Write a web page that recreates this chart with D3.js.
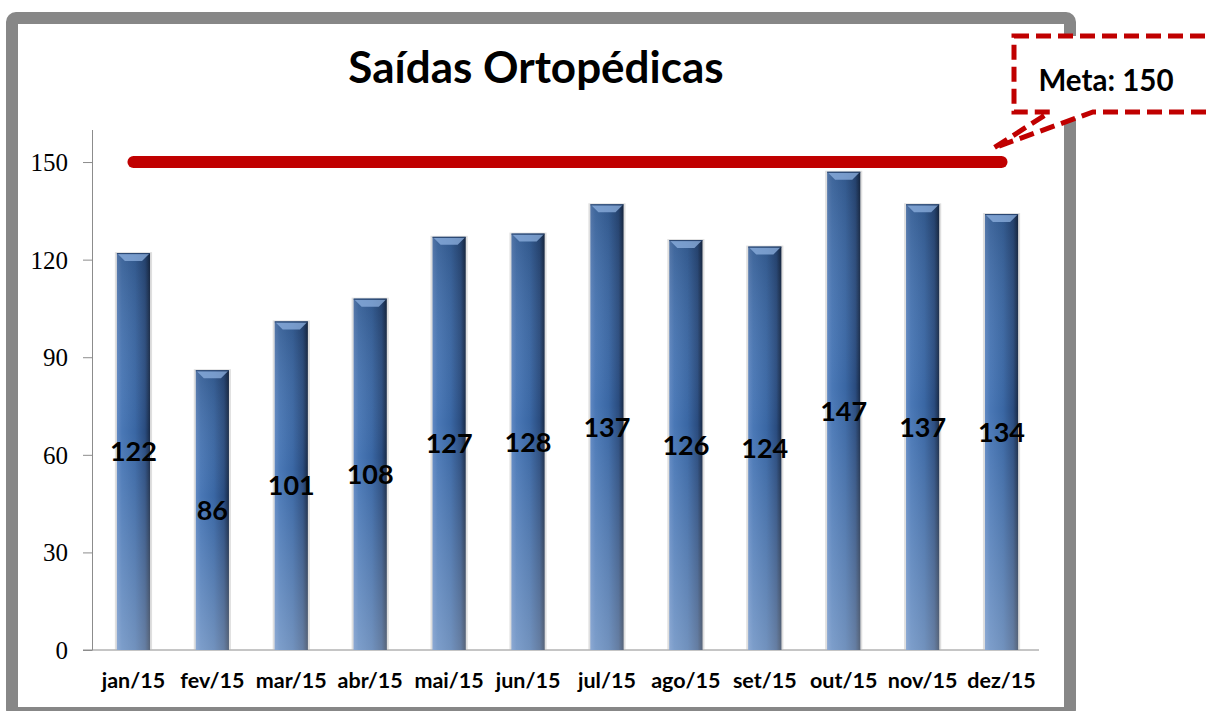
<!DOCTYPE html>
<html>
<head>
<meta charset="utf-8">
<script src="https://cdn.jsdelivr.net/npm/d3@7"></script>
<style>
  body { margin: 0; background: #fff; }
  .y-axis text { font-family: "Liberation Serif", serif; font-size: 25px; fill: #000; }
  .y-axis path, .y-axis line { stroke: #8c8c8c; }
  .x-label { font-family: Lato, sans-serif; font-weight: bold; font-size: 21.5px; fill: #000; }
  .val { font-family: Lato, sans-serif; font-weight: bold; font-size: 27px; fill: #000; }
  .title { font-family: Lato, sans-serif; font-weight: bold; font-size: 44px; fill: #000; }
  .meta { font-family: Lato, sans-serif; font-weight: bold; font-size: 29.5px; fill: #000; }
</style>
</head>
<body>
<div id="chart"></div>
<script>
var meses = ["jan/15", "fev/15", "mar/15", "abr/15", "mai/15", "jun/15",
             "jul/15", "ago/15", "set/15", "out/15", "nov/15", "dez/15"],
    saidas = [122, 86, 101, 108, 127, 128, 137, 126, 124, 147, 137, 134],
    meta = 150,
    yTicks = [0, 30, 60, 90, 120, 150],
    titulo = "Saídas Ortopédicas";

var W = 1207, H = 711,
    svg = d3.select("#chart").append("svg")
        .attr("width", W)
        .attr("height", H);

var x = d3.scaleBand()
        .domain(meses)
        .range([94, 1041])
        .paddingInner(0.58)
        .paddingOuter(0.29),
    y = d3.scaleLinear()
        .domain([0, 160])
        .range([650, 129.5]);

// gradients for the bars
var defs = svg.append("defs");
var gh = defs.append("linearGradient").attr("id", "barH")
    .attr("x1", 0).attr("x2", 1).attr("y1", 0).attr("y2", 0);
[["0%", "#6088c2"], ["15%", "#4a78b6"], ["55%", "#3a67a4"], ["85%", "#2a4c7f"], ["100%", "#182a47"]]
    .forEach(function (s) { gh.append("stop").attr("offset", s[0]).attr("stop-color", s[1]); });
var gv = defs.append("linearGradient").attr("id", "barV")
    .attr("x1", 0).attr("x2", 0).attr("y1", 0).attr("y2", 1);
gv.append("stop").attr("offset", "0%").attr("stop-color", "#000").attr("stop-opacity", 0.15);
gv.append("stop").attr("offset", "45%").attr("stop-color", "#fff").attr("stop-opacity", 0);
gv.append("stop").attr("offset", "100%").attr("stop-color", "#fff").attr("stop-opacity", 0.28);

// frame
svg.append("rect")
    .attr("x", 12).attr("y", 18)
    .attr("width", 1058).attr("height", 695)
    .attr("rx", 4)
    .attr("fill", "#fff")
    .attr("stroke", "#878787")
    .attr("stroke-width", 12);

// title
svg.append("text")
    .attr("class", "title")
    .attr("x", 536)
    .attr("y", 83)
    .attr("text-anchor", "middle")
    .text(titulo);

// y axis
var yAxis = d3.axisLeft(y)
    .tickValues(yTicks)
    .tickSize(9)
    .tickSizeOuter(0)
    .tickPadding(15);
svg.append("g")
    .attr("class", "y-axis")
    .attr("transform", "translate(92,0)")
    .call(yAxis)
    .call(function (g) { g.selectAll(".tick text").attr("dy", "0.34em"); });

// base line
svg.append("line")
    .attr("x1", 83).attr("x2", 1039)
    .attr("y1", y(0)).attr("y2", y(0))
    .attr("stroke", "#8c8c8c");

// bars
var bars = svg.append("g").selectAll(".bar")
    .data(saidas)
    .enter().append("g")
    .attr("class", "bar")
    .attr("transform", function (d, i) { return "translate(" + x(meses[i]) + ",0)"; });

var bw = x.bandwidth();
bars.append("rect")
    .attr("x", -2).attr("y", function (d) { return y(d) - 1; })
    .attr("width", bw + 4)
    .attr("height", function (d) { return y(0) - y(d) + 1; })
    .attr("fill", "#b8b8b8")
    .attr("opacity", 0.45);
bars.append("rect")
    .attr("x", 0).attr("y", function (d) { return y(d); })
    .attr("width", bw)
    .attr("height", function (d) { return y(0) - y(d); })
    .attr("fill", "url(#barH)");
bars.append("rect")
    .attr("x", 0).attr("y", function (d) { return y(d); })
    .attr("width", bw)
    .attr("height", function (d) { return y(0) - y(d); })
    .attr("fill", "url(#barV)");
bars.append("path")
    .attr("d", function (d) {
        var t = y(d);
        return "M1," + (t + 1) + "L" + (bw - 1) + "," + (t + 1) + "L" + (bw - 8) + "," + (t + 8) +
            "L8," + (t + 8) + "Z";
    })
    .attr("fill", "#8fb2e0")
    .attr("opacity", 0.75);
bars.append("line")
    .attr("x1", 0).attr("x2", bw)
    .attr("y1", function (d) { return y(d) + 0.5; })
    .attr("y2", function (d) { return y(d) + 0.5; })
    .attr("stroke", "#2a4670");

// value labels
svg.append("g").selectAll(".val")
    .data(saidas)
    .enter().append("text")
    .attr("class", "val")
    .attr("x", function (d, i) { return x(meses[i]) + bw / 2; })
    .attr("y", function (d) { return y(d / 2); })
    .attr("dy", "0.36em")
    .attr("text-anchor", "middle")
    .text(function (d) { return d; });

// x labels
svg.append("g").selectAll(".x-label")
    .data(meses)
    .enter().append("text")
    .attr("class", "x-label")
    .attr("x", function (d) { return x(d) + bw / 2; })
    .attr("y", 688)
    .attr("text-anchor", "middle")
    .text(function (d) { return d; });

// meta line
var x0 = x(meses[0]) + bw / 2,
    x1 = x(meses[meses.length - 1]) + bw / 2;
svg.append("line")
    .attr("x1", x0).attr("x2", x1)
    .attr("y1", y(meta)).attr("y2", y(meta))
    .attr("stroke", "#c00000")
    .attr("stroke-width", 12)
    .attr("stroke-linecap", "round");

// callout
var tipX = x1 - 8, tipY = y(meta) - 14;
svg.append("path")
    .attr("d", "M1014,36L1215,36L1215,112L1093,112L" + tipX + "," + tipY + "L1050,112L1014,112Z")
    .attr("fill", "#fff")
    .attr("stroke", "#c00000")
    .attr("stroke-width", 5)
    .attr("stroke-dasharray", "15,7");
svg.append("text")
    .attr("class", "meta")
    .attr("x", 1106)
    .attr("y", 91)
    .attr("text-anchor", "middle")
    .text("Meta: " + meta);
</script>
</body>
</html>
